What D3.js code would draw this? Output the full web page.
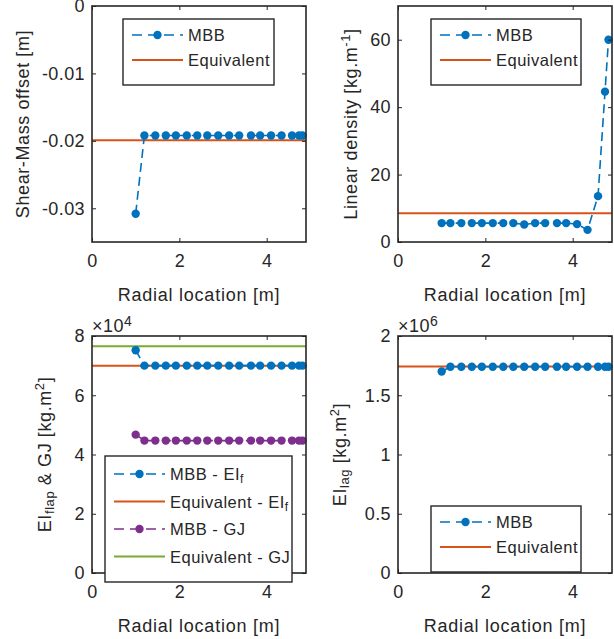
<!DOCTYPE html>
<html>
<head>
<meta charset="utf-8">
<script src="https://cdn.jsdelivr.net/npm/d3@7"></script>
<style>
  body { margin: 0; background: #fff; }
  svg { display: block; font-family: "Liberation Sans", Arial, sans-serif; }
  text { fill: #262626; }
</style>
</head>
<body>
<div id="chart"></div>
<script>
// radial stations of the MBB model [m]
var radial = [1.0, 1.2, 1.45, 1.69, 1.92, 2.17, 2.41, 2.64, 2.89, 3.14, 3.37, 3.64, 3.85, 4.10, 4.34, 4.58, 4.74, 4.82];

var shearMassMBB = [-0.0308, -0.0192, -0.0192, -0.0192, -0.0192, -0.0192, -0.0192, -0.0192, -0.0192,
                    -0.0192, -0.0192, -0.0192, -0.0192, -0.0192, -0.0192, -0.0192, -0.0192, -0.0192];
var shearMassEquiv = -0.0199;

var densityMBB = [5.6, 5.6, 5.6, 5.6, 5.6, 5.6, 5.6, 5.6, 5.2, 5.6, 5.6, 5.6, 5.6, 5.3, 3.6, 13.6, 44.6, 60];
var densityEquiv = 8.5;

var eiFlapMBB = [75200, 70000, 70000, 70000, 70000, 70000, 70000, 70000, 70000,
                 70000, 70000, 70000, 70000, 70000, 70000, 70000, 70000, 70000];
var eiFlapEquiv = 70000;
var gjMBB = [46700, 44700, 44700, 44700, 44700, 44700, 44700, 44700, 44700,
             44700, 44700, 44700, 44700, 44700, 44700, 44700, 44700, 44700];
var gjEquiv = 76500;

var eiLagMBB = [1700000, 1740000, 1740000, 1740000, 1740000, 1740000, 1740000, 1740000, 1740000,
                1740000, 1740000, 1740000, 1740000, 1740000, 1740000, 1740000, 1740000, 1740000];
var eiLagEquiv = 1742000;

var xTicks = [0, 2, 4];
var shearTicks = [0, -0.01, -0.02, -0.03];
var densityTicks = [0, 20, 40, 60];
var flapTicks = [0, 20000, 40000, 60000, 80000];
var lagTicks = [0, 500000, 1000000, 1500000, 2000000];

var blue = "#0072BD", orange = "#D95319", purple = "#7E2F8E", green = "#77AC30";
var ink = "#262626";

var width = 614, height = 639;
var svg = d3.select("#chart").append("svg")
  .attr("width", width)
  .attr("height", height);

var panels = [
  { box: [92, 306, 6, 242], yDomain: [-0.035, 0], yTicks: shearTicks,
    yFmt: function (d) { return String(+d.toFixed(4)); },
    ylabel: [["Shear-Mass offset [m]", ""]], labelX: 29,
    mbb: [{ values: shearMassMBB, color: blue }],
    equiv: [{ value: shearMassEquiv, color: orange }],
    legend: { x: 123, y: 19, w: 151, rows: [
      { type: "mbb", color: blue, text: [["MBB", ""]] },
      { type: "eq", color: orange, text: [["Equivalent", ""]] }] } },
  { box: [398, 612, 6, 242], yDomain: [0, 70], yTicks: densityTicks,
    yFmt: function (d) { return String(d); },
    ylabel: [["Linear density [kg.m", ""], ["-1", "sup"], ["]", ""]], labelX: 357,
    mbb: [{ values: densityMBB, color: blue }],
    equiv: [{ value: densityEquiv, color: orange }],
    legend: { x: 431, y: 19, w: 150, rows: [
      { type: "mbb", color: blue, text: [["MBB", ""]] },
      { type: "eq", color: orange, text: [["Equivalent", ""]] }] } },
  { box: [92, 306, 336, 573], yDomain: [0, 80000], yTicks: flapTicks,
    yFmt: function (d) { return String(d / 1e4); }, exponent: "4",
    ylabel: [["EI", ""], ["flap", "sub"], [" & GJ [kg.m", ""], ["2", "sup"], ["]", ""]], labelX: 51,
    mbb: [{ values: eiFlapMBB, color: blue }, { values: gjMBB, color: purple }],
    equiv: [{ value: eiFlapEquiv, color: orange }, { value: gjEquiv, color: green }],
    legend: { x: 105, y: 456, w: 187, rows: [
      { type: "mbb", color: blue, text: [["MBB - EI", ""], ["f", "sub"]] },
      { type: "eq", color: orange, text: [["Equivalent - EI", ""], ["f", "sub"]] },
      { type: "mbb", color: purple, text: [["MBB - GJ", ""]] },
      { type: "eq", color: green, text: [["Equivalent - GJ", ""]] }] } },
  { box: [398, 612, 336, 573], yDomain: [0, 2000000], yTicks: lagTicks,
    yFmt: function (d) { return String(d / 1e6); }, exponent: "6",
    ylabel: [["EI", ""], ["lag", "sub"], [" [kg.m", ""], ["2", "sup"], ["]", ""]], labelX: 346,
    mbb: [{ values: eiLagMBB, color: blue }],
    equiv: [{ value: eiLagEquiv, color: orange }],
    legend: { x: 431, y: 506, w: 150, rows: [
      { type: "mbb", color: blue, text: [["MBB", ""]] },
      { type: "eq", color: orange, text: [["Equivalent", ""]] }] } }
];

// writes runs of normal / sub / sup text into a text node
function richText(sel, parts, size) {
  parts.forEach(function (p) {
    var t = sel.append("tspan").text(p[0]);
    if (p[1] === "sub") t.attr("font-size", size * 0.72).attr("baseline-shift", "-25%");
    if (p[1] === "sup") t.attr("font-size", size * 0.72).attr("baseline-shift", "55%");
  });
}

panels.forEach(function (p) {
  var x0 = p.box[0], x1 = p.box[1], y0 = p.box[2], y1 = p.box[3];
  var x = d3.scaleLinear().domain([0, 4.9]).range([x0, x1]);
  var y = d3.scaleLinear().domain(p.yDomain).range([y1, y0]);
  var g = svg.append("g");

  // equivalent (flat) lines
  p.equiv.forEach(function (e) {
    g.append("line")
      .attr("x1", x(0)).attr("x2", x(4.9))
      .attr("y1", y(e.value)).attr("y2", y(e.value))
      .attr("stroke", e.color).attr("stroke-width", 2);
  });

  // MBB series: dashed line + filled dots
  var line = d3.line()
    .x(function (d, i) { return x(radial[i]); })
    .y(function (d) { return y(d); });
  p.mbb.forEach(function (s) {
    g.append("path")
      .attr("d", line(s.values))
      .attr("fill", "none")
      .attr("stroke", s.color)
      .attr("stroke-width", 1.6)
      .attr("stroke-dasharray", "9,5");
    g.selectAll(null)
      .data(s.values)
      .enter()
      .append("circle")
      .attr("cx", function (d, i) { return x(radial[i]); })
      .attr("cy", function (d) { return y(d); })
      .attr("r", 4.2)
      .attr("fill", s.color);
  });

  // axes with inward ticks on all four sides
  var bottom = g.append("g").attr("transform", "translate(0," + y1 + ")")
    .call(d3.axisBottom(x).tickValues(xTicks).tickSize(-4).tickPadding(9)
      .tickFormat(function (d) { return String(d); }));
  g.append("g").attr("transform", "translate(" + x0 + ",0)")
    .call(d3.axisLeft(y).tickValues(p.yTicks).tickSize(-4).tickFormat(p.yFmt).tickPadding(7));
  g.append("g").attr("transform", "translate(0," + y0 + ")")
    .call(d3.axisTop(x).tickValues(xTicks).tickSize(-4).tickFormat(""));
  g.append("g").attr("transform", "translate(" + x1 + ",0)")
    .call(d3.axisRight(y).tickValues(p.yTicks).tickSize(-4).tickFormat(""));
  g.selectAll(".domain").remove();
  g.selectAll(".tick line").attr("stroke", ink).attr("stroke-width", 1);
  g.selectAll(".tick text")
    .attr("fill", ink)
    .style("font-size", "18px")
    .style("letter-spacing", "0.4px")
    .style("font-family", "'Liberation Sans', Arial, sans-serif");
  bottom.selectAll(".tick text").attr("dy", "0.9em");

  g.append("rect")
    .attr("x", x0).attr("y", y0)
    .attr("width", x1 - x0).attr("height", y1 - y0)
    .attr("fill", "none")
    .attr("stroke", ink)
    .attr("stroke-width", 1.6);

  // x label
  g.append("text")
    .attr("x", (x0 + x1) / 2)
    .attr("y", y1 + 59)
    .attr("text-anchor", "middle")
    .style("font-size", "18px")
    .style("letter-spacing", "0.75px")
    .text("Radial location [m]");

  // y label
  var yl = g.append("text")
    .attr("transform", "translate(" + p.labelX + "," + ((y0 + y1) / 2) + ") rotate(-90)")
    .attr("text-anchor", "middle")
    .style("font-size", "18px")
    .style("letter-spacing", "0.6px");
  richText(yl, p.ylabel, 18);

  // exponent marker above the y axis
  if (p.exponent) {
    var ex = g.append("text")
      .attr("x", x0)
      .attr("y", y0 - 4)
      .style("font-size", "18px")
      .style("letter-spacing", "0.5px");
    ex.append("tspan").text("\u00d710");
    ex.append("tspan").attr("font-size", 14).attr("baseline-shift", "45%").text(p.exponent);
  }

  // legend
  var L = p.legend, rowH = p.legend.rows.length > 2 ? 27.5 : 25;
  var lg = g.append("g");
  lg.append("rect")
    .attr("x", L.x).attr("y", L.y)
    .attr("width", L.w).attr("height", 12 + rowH * L.rows.length + 4)
    .attr("fill", "#fff")
    .attr("stroke", ink)
    .attr("stroke-width", 1.4);
  L.rows.forEach(function (r, i) {
    var cy = L.y + 16 + rowH * i + (L.rows.length > 2 ? 2 : 0);
    var lx0 = L.x + 9, lx1 = L.x + 60;
    lg.append("line")
      .attr("x1", lx0).attr("x2", lx1)
      .attr("y1", cy).attr("y2", cy)
      .attr("stroke", r.color)
      .attr("stroke-width", r.type === "mbb" ? 1.6 : 2)
      .attr("stroke-dasharray", r.type === "mbb" ? "10,6" : null);
    if (r.type === "mbb") {
      lg.append("circle")
        .attr("cx", (lx0 + lx1) / 2).attr("cy", cy)
        .attr("r", 4.2).attr("fill", r.color);
    }
    var t = lg.append("text")
      .attr("x", lx1 + 5)
      .attr("y", cy + 6)
      .style("font-size", "16.5px")
      .style("letter-spacing", "0.5px");
    richText(t, r.text, 16.5);
  });
});
</script>
</body>
</html>
